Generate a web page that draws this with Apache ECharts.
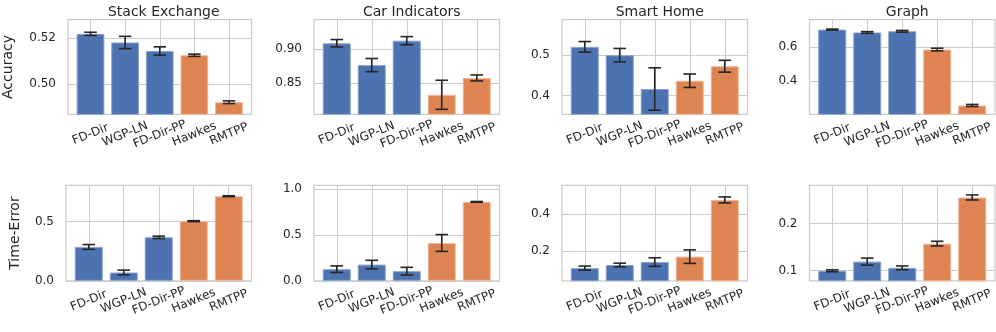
<!DOCTYPE html>
<html><head><meta charset="utf-8">
<script src="https://cdn.jsdelivr.net/npm/echarts@6/dist/echarts.min.js"></script>
<style>html,body{margin:0;padding:0;background:#fff}#c{width:996px;height:332px}</style>
</head><body><div id="c"></div>
<script>
// ---- data ----
const categories = ['FD-Dir', 'WGP-LN', 'FD-Dir-PP', 'Hawkes', 'RMTPP'];
const datasetTitles = ['Stack Exchange', 'Car Indicators', 'Smart Home', 'Graph'];
const rowNames = ['Accuracy', 'Time-Error'];

const accStackExchange = [0.5219, 0.5181, 0.5144, 0.5125, 0.4919];
const accStackExchangeErr = [0.0007, 0.0027, 0.0018, 0.0005, 0.0006];
const accCar = [0.9083, 0.8762, 0.9121, 0.8325, 0.8573];
const accCarErr = [0.0055, 0.0097, 0.0060, 0.0214, 0.0044];
const accSmartHome = [0.5194, 0.4990, 0.4160, 0.4363, 0.4719];
const accSmartHomeErr = [0.0130, 0.0165, 0.0520, 0.0165, 0.0145];
const accGraph = [0.703, 0.686, 0.693, 0.585, 0.254];
const accGraphErr = [0.003, 0.005, 0.005, 0.008, 0.006];

const teStackExchange = [0.285, 0.070, 0.366, 0.502, 0.712];
const teStackExchangeErr = [0.020, 0.020, 0.010, 0.004, 0.004];
const teCar = [0.127, 0.177, 0.105, 0.413, 0.862];
const teCarErr = [0.036, 0.047, 0.042, 0.092, 0.004];
const teSmartHome = [0.110, 0.127, 0.1425, 0.1715, 0.474];
const teSmartHomeErr = [0.011, 0.0097, 0.023, 0.036, 0.016];
const teGraph = [0.0994, 0.119, 0.1057, 0.1574, 0.256];
const teGraphErr = [0.002, 0.0075, 0.004, 0.005, 0.0053];

const accMin = [0.4866, 0.8038, 0.354, 0.2017];
const accMax = [0.5281, 0.943, 0.586, 0.7615];
const teMin = [0, 0, 0.0425, 0.078];
const teMax = [0.804, 1.043, 0.552, 0.282];
const accTicks = [[0.50, 0.52], [0.85, 0.90], [0.4, 0.5], [0.4, 0.6]];
const teTicks = [[0.0, 0.5], [0.0, 0.5, 1.0], [0.2, 0.4], [0.1, 0.2]];
const accDecimals = [2, 2, 1, 1];
const teDecimals = [1, 1, 1, 1];

// ---- layout / style ----
const BLUE = '#4c72b0', ORANGE = '#dd8452';
const barColors = [BLUE, BLUE, BLUE, ORANGE, ORANGE];
const barEdge = ['#8aa3cc', '#8aa3cc', '#8aa3cc', '#f0b898', '#f0b898'];
const TEXT = '#262626', GRIDC = '#cccccc';
const colLeft = [66, 314, 562, 809.5];
const colWidth = 185.5;
const rowTop = [19.7, 185.3];
const rowHeight = [94.6, 95.5];

const rows = [
  { vals: [accStackExchange, accCar, accSmartHome, accGraph],
    errs: [accStackExchangeErr, accCarErr, accSmartHomeErr, accGraphErr],
    mins: accMin, maxs: accMax, ticks: accTicks, dec: accDecimals, nameGap: 53 },
  { vals: [teStackExchange, teCar, teSmartHome, teGraph],
    errs: [teStackExchangeErr, teCarErr, teSmartHomeErr, teGraphErr],
    mins: teMin, maxs: teMax, ticks: teTicks, dec: teDecimals, nameGap: 44 }
];

const grid = [], xAxis = [], yAxis = [], series = [], title = [];
const catIdx = categories.map((c, i) => i);

function renderErr(params, api) {
  const x = api.value(0), v = api.value(1), e = api.value(2);
  const lo = api.coord([x, v - e]), hi = api.coord([x, v + e]);
  const cl = api.coord([x - 0.18, v]), cr = api.coord([x + 0.18, v]);
  const hw = (cr[0] - cl[0]) / 2;
  const style = { stroke: '#262626', lineWidth: 1.6 };
  return { type: 'group', children: [
    { type: 'line', shape: { x1: lo[0], y1: lo[1], x2: hi[0], y2: hi[1] }, style },
    { type: 'line', shape: { x1: lo[0] - hw, y1: lo[1], x2: lo[0] + hw, y2: lo[1] }, style },
    { type: 'line', shape: { x1: hi[0] - hw, y1: hi[1], x2: hi[0] + hw, y2: hi[1] }, style }
  ]};
}

rows.forEach((row, r) => {
  for (let c = 0; c < 4; c++) {
    const k = r * 4 + c;
    grid.push({ left: colLeft[c], top: rowTop[r], width: colWidth, height: rowHeight[r],
      show: true, borderColor: GRIDC, borderWidth: 1.25, backgroundColor: '#fff' });
    xAxis.push({ type: 'value', gridIndex: k, min: -0.65, max: 4.65,
      axisLine: { show: false },
      axisTick: { show: false, customValues: catIdx },
      splitLine: { show: true, lineStyle: { color: GRIDC, width: 1 } },
      axisLabel: { customValues: catIdx, formatter: v => categories[Math.round(v)],
        rotate: 22, align: 'center', verticalAlign: 'middle', margin: 20,
        fontSize: 12, color: TEXT, fontFamily: 'DejaVu Sans' } });
    const dec = row.dec[c];
    yAxis.push({ type: 'value', gridIndex: k, min: row.mins[c], max: row.maxs[c],
      axisLine: { show: false },
      axisTick: { show: false, customValues: row.ticks[c] },
      splitLine: { show: true, lineStyle: { color: GRIDC, width: 1 } },
      axisLabel: { customValues: row.ticks[c], formatter: v => v.toFixed(dec),
        margin: 12, fontSize: 12, color: TEXT, fontFamily: 'DejaVu Sans' },
      name: c === 0 ? rowNames[r] : '', nameLocation: 'middle', nameGap: row.nameGap,
      nameTextStyle: { fontSize: 14, color: TEXT, fontFamily: 'DejaVu Sans' } });
    series.push({ type: 'bar', xAxisIndex: k, yAxisIndex: k, barWidth: '80%', clip: true,
      data: row.vals[c].map((v, i) => ({ value: [i, v],
        itemStyle: { color: barColors[i], borderColor: barEdge[i], borderWidth: 1 } })) });
    series.push({ type: 'custom', xAxisIndex: k, yAxisIndex: k, z: 5, clip: false,
      renderItem: renderErr, encode: { x: 0, y: 1 },
      data: row.vals[c].map((v, i) => [i, v, row.errs[r === 0 ? c : c][i]]) });
    if (r === 0) {
      title.push({ text: datasetTitles[c], left: colLeft[c] + colWidth / 2, top: 0,
        textAlign: 'center',
        textStyle: { fontSize: 14, fontWeight: 'normal', color: TEXT, fontFamily: 'DejaVu Sans' } });
    }
  }
});

const chart = echarts.init(document.getElementById('c'), null, { renderer: 'canvas' });
chart.setOption({
  animation: false,
  backgroundColor: '#fff',
  textStyle: { fontFamily: 'DejaVu Sans' },
  title, grid, xAxis, yAxis, series
});
</script></body></html>
